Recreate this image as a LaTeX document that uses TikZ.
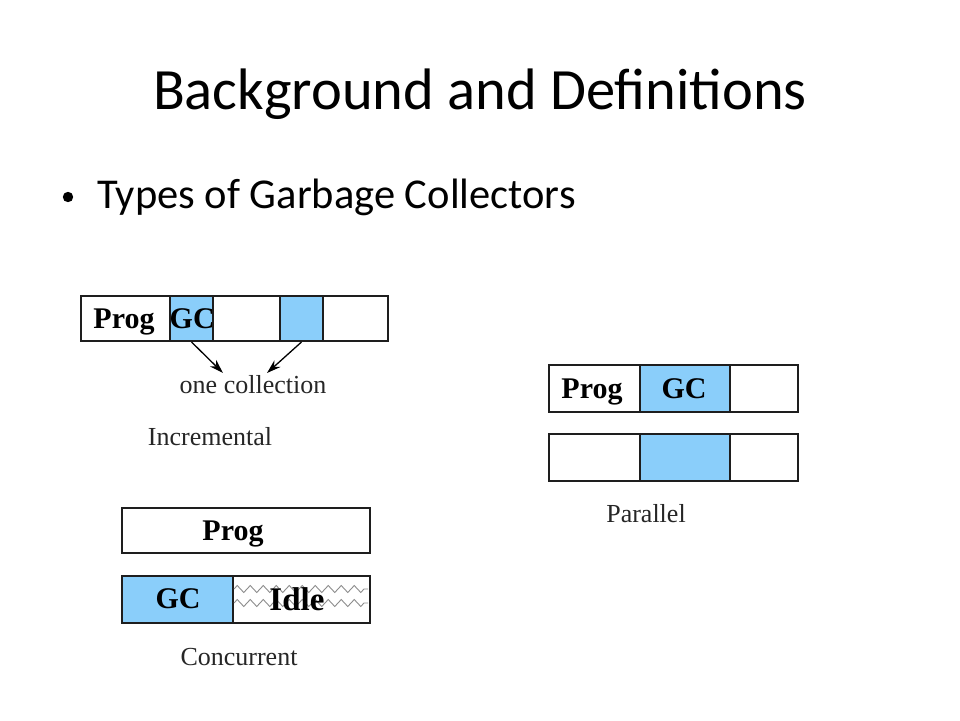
\documentclass[tikz,border=0pt]{standalone}
\usepackage{fontspec}
\setmainfont{Liberation Serif}
\newfontfamily\slidefont{Carlito}
\usetikzlibrary{arrows.meta,decorations.pathmorphing}
\definecolor{gcblue}{RGB}{138,206,250}
\definecolor{boxline}{RGB}{30,30,30}
\tikzset{
  cell/.style={draw=boxline, line width=2pt, inner sep=0pt, anchor=north west},
  bluecell/.style={cell, fill=gcblue},
  boldlbl/.style={anchor=base, inner sep=0pt, font=\fontsize{30}{30}\selectfont\bfseries},
  caption/.style={anchor=base, inner sep=0pt, font=\fontsize{26}{26}\selectfont, text=black!85},
  pointer/.style={line width=1.3pt, -{Stealth[length=14pt,width=9pt]}},
  wave/.style={draw=black!45, line width=0.9pt, decorate, decoration={zigzag, segment length=13pt, amplitude=3.5pt}}
}
\begin{document}
\begin{tikzpicture}[x=1pt,y=-1pt]
\useasboundingbox (0,0) rectangle (960,720);
% title and bullet
\node[anchor=base, inner sep=0pt, font=\slidefont\fontsize{58.5}{60}\selectfont] (title) at (480,109) {Background and Definitions};
\fill (68,197) circle (5.2pt);
\node[anchor=base west, inner sep=0pt, font=\slidefont\fontsize{42.5}{44}\selectfont] (bullet) at (97,208) {Types of Garbage Collectors};

% Incremental
\node[cell, minimum width=89pt, minimum height=45pt] (ip) at (80,295) {};
\node[bluecell, minimum width=43pt, minimum height=45pt] (ig1) at (169,295) {};
\node[cell, minimum width=67pt, minimum height=45pt] (ie1) at (212,295) {};
\node[bluecell, minimum width=43pt, minimum height=45pt] (ig2) at (279,295) {};
\node[cell, minimum width=65pt, minimum height=45pt] (ie2) at (322,295) {};
\node[boldlbl] (iprog) at (124,328) {Prog};
\begin{scope}
\clip (169,295) rectangle (211.5,340);
\node[boldlbl, anchor=base west] (igc) at (169.5,328) {GC};
\end{scope}
\node[caption] (onecol) at (253,393) {one collection};
\coordinate (a1end) at (223,373);
\coordinate (a2end) at (267,373);
\draw[pointer] (ig1.south) -- (a1end);
\draw[pointer] (ig2.south) -- (a2end);
\node[caption] (incr) at (210,445) {Incremental};

% Parallel
\node[cell, minimum width=91pt, minimum height=47pt] (pp1) at (548,364) {};
\node[bluecell, minimum width=90pt, minimum height=47pt] (pg1) at (639,364) {};
\node[cell, minimum width=68pt, minimum height=47pt] (pe1) at (729,364) {};
\node[cell, minimum width=91pt, minimum height=47pt] (pp2) at (548,433) {};
\node[bluecell, minimum width=90pt, minimum height=47pt] (pg2) at (639,433) {};
\node[cell, minimum width=68pt, minimum height=47pt] (pe2) at (729,433) {};
\node[boldlbl] (pprog) at (592,398) {Prog};
\node[boldlbl] (pgc) at (684,398) {GC};
\node[caption] (par) at (646,522) {Parallel};

% Concurrent
\node[cell, minimum width=248pt, minimum height=45pt] (cprogbox) at (121,507) {};
\node[boldlbl] (cprog) at (233,540) {Prog};
\node[bluecell, minimum width=111pt, minimum height=47pt] (cgcbox) at (121,575) {};
\node[cell, minimum width=137pt, minimum height=47pt] (cidlebox) at (232,575) {};
\draw[wave] (234,589) -- (368,589);
\draw[wave] (234,603) -- (368,603);
\node[boldlbl] (cgc) at (178,608) {GC};
\node[boldlbl, font=\fontsize{33}{33}\selectfont\bfseries] (cidle) at (297,610) {Idle};
\node[caption] (conc) at (239,665) {Concurrent};
\end{tikzpicture}
\end{document}
